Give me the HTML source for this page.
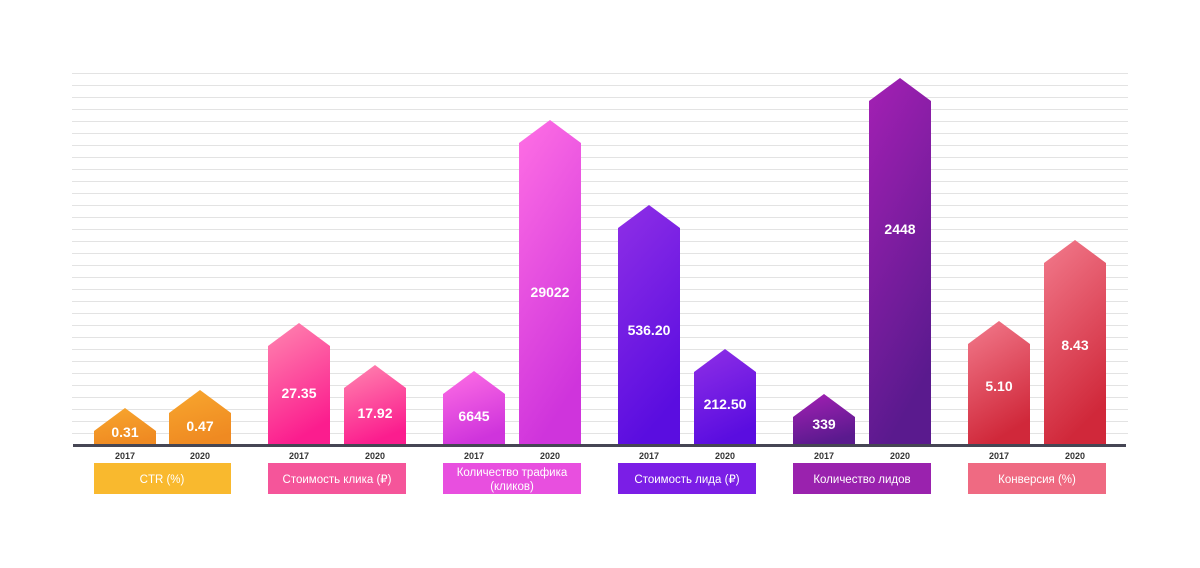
<!DOCTYPE html>
<html><head><meta charset="utf-8"><style>
html,body{margin:0;padding:0;background:#fff;}
svg{display:block;font-family:"Liberation Sans","DejaVu Sans",sans-serif;}
</style></head><body>
<svg width="1200" height="568" viewBox="0 0 1200 568" xmlns="http://www.w3.org/2000/svg">
<defs>
<linearGradient id="g1" x1="0" y1="0" x2="0.3" y2="1"><stop offset="0" stop-color="#f8a72e"/><stop offset="1" stop-color="#ef8a22"/></linearGradient>
<linearGradient id="g2" x1="0" y1="0" x2="0.3" y2="1"><stop offset="0" stop-color="#ff86b0"/><stop offset="1" stop-color="#fb1d8e"/></linearGradient>
<linearGradient id="g3" x1="0" y1="0" x2="0.3" y2="1"><stop offset="0" stop-color="#ff6fe4"/><stop offset="1" stop-color="#cf34dc"/></linearGradient>
<linearGradient id="g4" x1="0" y1="0" x2="0.3" y2="1"><stop offset="0" stop-color="#8f2fe6"/><stop offset="1" stop-color="#5a0de0"/></linearGradient>
<linearGradient id="g5" x1="0" y1="0" x2="0.3" y2="1"><stop offset="0" stop-color="#a420b4"/><stop offset="1" stop-color="#5a1a8e"/></linearGradient>
<linearGradient id="g6" x1="0" y1="0" x2="0.3" y2="1"><stop offset="0" stop-color="#f27a8c"/><stop offset="1" stop-color="#d0283a"/></linearGradient>
</defs>
<g stroke="#e3e3e3" stroke-width="1">
<line x1="72" x2="1128" y1="73.5" y2="73.5"/><line x1="72" x2="1128" y1="85.5" y2="85.5"/><line x1="72" x2="1128" y1="97.5" y2="97.5"/><line x1="72" x2="1128" y1="109.5" y2="109.5"/><line x1="72" x2="1128" y1="121.5" y2="121.5"/><line x1="72" x2="1128" y1="133.5" y2="133.5"/><line x1="72" x2="1128" y1="145.5" y2="145.5"/><line x1="72" x2="1128" y1="157.5" y2="157.5"/><line x1="72" x2="1128" y1="169.5" y2="169.5"/><line x1="72" x2="1128" y1="181.5" y2="181.5"/><line x1="72" x2="1128" y1="193.5" y2="193.5"/><line x1="72" x2="1128" y1="205.5" y2="205.5"/><line x1="72" x2="1128" y1="217.5" y2="217.5"/><line x1="72" x2="1128" y1="229.5" y2="229.5"/><line x1="72" x2="1128" y1="241.5" y2="241.5"/><line x1="72" x2="1128" y1="253.5" y2="253.5"/><line x1="72" x2="1128" y1="265.5" y2="265.5"/><line x1="72" x2="1128" y1="277.5" y2="277.5"/><line x1="72" x2="1128" y1="289.5" y2="289.5"/><line x1="72" x2="1128" y1="301.5" y2="301.5"/><line x1="72" x2="1128" y1="313.5" y2="313.5"/><line x1="72" x2="1128" y1="325.5" y2="325.5"/><line x1="72" x2="1128" y1="337.5" y2="337.5"/><line x1="72" x2="1128" y1="349.5" y2="349.5"/><line x1="72" x2="1128" y1="361.5" y2="361.5"/><line x1="72" x2="1128" y1="373.5" y2="373.5"/><line x1="72" x2="1128" y1="385.5" y2="385.5"/><line x1="72" x2="1128" y1="397.5" y2="397.5"/><line x1="72" x2="1128" y1="409.5" y2="409.5"/><line x1="72" x2="1128" y1="421.5" y2="421.5"/><line x1="72" x2="1128" y1="433.5" y2="433.5"/>
</g>
<g>
<polygon fill="url(#g1)" points="94,446 94,431 125,408 156,431 156,446"/>
<polygon fill="url(#g1)" points="169,446 169,413 200,390 231,413 231,446"/>
<polygon fill="url(#g2)" points="268,446 268,346 299,323 330,346 330,446"/>
<polygon fill="url(#g2)" points="344,446 344,388 375,365 406,388 406,446"/>
<polygon fill="url(#g3)" points="443,446 443,394 474,371 505,394 505,446"/>
<polygon fill="url(#g3)" points="519,446 519,143 550,120 581,143 581,446"/>
<polygon fill="url(#g4)" points="618,446 618,228 649,205 680,228 680,446"/>
<polygon fill="url(#g4)" points="694,446 694,372 725,349 756,372 756,446"/>
<polygon fill="url(#g5)" points="793,446 793,417 824,394 855,417 855,446"/>
<polygon fill="url(#g5)" points="869,446 869,101 900,78 931,101 931,446"/>
<polygon fill="url(#g6)" points="968,446 968,344 999,321 1030,344 1030,446"/>
<polygon fill="url(#g6)" points="1044,446 1044,263 1075,240 1106,263 1106,446"/>
</g>
<rect x="73" y="444" width="1053" height="3" fill="#464654"/>
<g fill="#fff" font-weight="bold" font-size="14" text-anchor="middle">
<text x="125" y="437">0.31</text><text x="200" y="431">0.47</text>
<text x="299" y="398">27.35</text><text x="375" y="418">17.92</text>
<text x="474" y="421">6645</text><text x="550" y="297">29022</text>
<text x="649" y="335">536.20</text><text x="725" y="409">212.50</text>
<text x="824" y="429">339</text><text x="900" y="234">2448</text>
<text x="999" y="391">5.10</text><text x="1075" y="350">8.43</text>
</g>
<g fill="#333" font-weight="bold" font-size="9" text-anchor="middle">
<text x="125" y="459">2017</text><text x="200" y="459">2020</text>
<text x="299" y="459">2017</text><text x="375" y="459">2020</text>
<text x="474" y="459">2017</text><text x="550" y="459">2020</text>
<text x="649" y="459">2017</text><text x="725" y="459">2020</text>
<text x="824" y="459">2017</text><text x="900" y="459">2020</text>
<text x="999" y="459">2017</text><text x="1075" y="459">2020</text>
</g>
<rect x="94" y="463" width="137" height="31" fill="#f9b92e"/>
<rect x="268" y="463" width="138" height="31" fill="#f5559a"/>
<rect x="443" y="463" width="138" height="31" fill="#e84fdf"/>
<rect x="618" y="463" width="138" height="31" fill="#7b1ee6"/>
<rect x="793" y="463" width="138" height="31" fill="#9a22ae"/>
<rect x="968" y="463" width="138" height="31" fill="#ef6a82"/>
<g fill="#fff" font-size="11.5" text-anchor="middle">
<text x="162" y="483">CTR (%)</text>
<text x="337" y="483">Стоимость клика (₽)</text>
<text x="512" y="476">Количество трафика</text>
<text x="512" y="490">(кликов)</text>
<text x="687" y="483">Стоимость лида (₽)</text>
<text x="862" y="483">Количество лидов</text>
<text x="1037" y="483">Конверсия (%)</text>
</g>
</svg>
</body></html>
